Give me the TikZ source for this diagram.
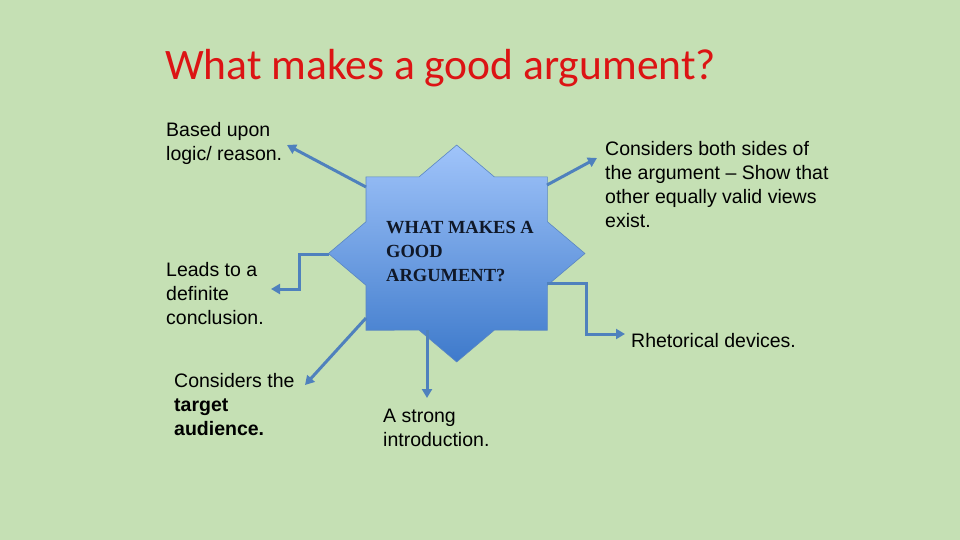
\documentclass[tikz,border=0pt]{standalone}
\usepackage{fontspec}
\setmainfont{Liberation Sans}
\newfontfamily\titlefont{Carlito}
\newfontfamily\starfont{Liberation Serif}
\usetikzlibrary{arrows.meta}
\definecolor{paper}{HTML}{C5E0B4}
\definecolor{titlered}{HTML}{DC1414}
\definecolor{starhi}{HTML}{A0C4FA}
\definecolor{starlo}{HTML}{3E7ACB}
\definecolor{starrim}{HTML}{5A86C2}
\definecolor{linkblue}{HTML}{4F81BD}
\definecolor{ink}{HTML}{101828}

\begin{document}
\begin{tikzpicture}[x=1pt,y=-1pt,
  lbl/.style={anchor=north west,inner sep=0pt,align=left,font=\fontsize{19.5}{24}\selectfont},
  starlbl/.style={anchor=north west,inner sep=0pt,align=left,text=ink,font=\starfont\bfseries\fontsize{18.5}{24}\selectfont},
  arrowline/.style={draw=linkblue,line width=3pt,-{Triangle[length=9pt,width=10pt]}}]
% slide
\fill[paper] (0,0) rectangle (960,540);
\node[anchor=base west,inner sep=0pt,text=titlered,font=\titlefont\fontsize{43.5}{50}\selectfont] (title) at (165,80) {What makes a good argument?};
% eight point star
\begin{scope}[shift={(456.7,253.5)},x=90.7pt,y=76.7pt]
\shadedraw[top color=starhi,bottom color=starlo,draw=starrim,line width=.6pt]
  (0:1.4142) \foreach \k in {0,...,7}{ -- (\k*45+22.5:1.0824) -- (\k*45+45:1.4142)} -- cycle;
\end{scope}
\node[starlbl] (startxt) at (386,221) {WHAT MAKES A\\GOOD\\ARGUMENT?};
% points where the connectors leave the star
\coordinate (s-ul) at (366,187);
\coordinate (s-ur) at (547,185);
\coordinate (s-l) at (329,254);
\coordinate (s-ll) at (366,318);
\coordinate (s-b) at (427,330);
\coordinate (s-r) at (547,283);
% labels
\node[lbl] (based) at (166,122) {Based upon\\logic/ reason.};
\node[lbl] (leads) at (166,262) {Leads to a\\definite\\conclusion.};
\node[lbl] (target) at (174,373) {Considers the\\\textbf{target}\\\textbf{audience.}};
\node[lbl] (strong) at (383,409) {A strong\\introduction.};
\node[lbl] (both) at (605,141) {Considers both sides of\\the argument -- Show that\\other equally valid views\\exist.};
\node[lbl] (rhet) at (631,333) {Rhetorical devices.};
% arrow tips
\coordinate (t-based) at (287,145);
\coordinate (t-both) at (597,158);
\coordinate (t-leads) at (271,289);
\coordinate (t-target) at (305,385);
\coordinate (t-strong) at (427,398);
\coordinate (t-rhet) at (625,334);
% connectors
\draw[arrowline] (s-ul) -- (t-based);
\draw[arrowline] (s-ur) -- (t-both);
\draw[arrowline] (s-l) -- ++(-30,0) |- (t-leads);
\draw[arrowline] (s-ll) -- (t-target);
\draw[arrowline] (s-b) -- (t-strong);
\draw[arrowline] (s-r) -- ++(39,0) |- (t-rhet);
\end{tikzpicture}
\end{document}
